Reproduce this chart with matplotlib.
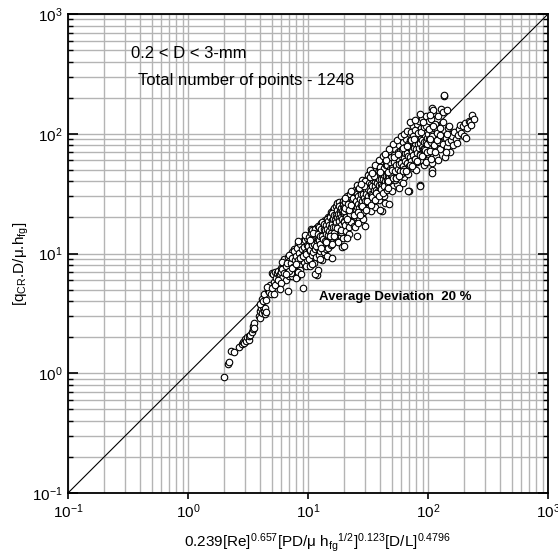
import numpy as np
import matplotlib
matplotlib.use("Agg")
import matplotlib.pyplot as plt
from matplotlib.ticker import LogLocator, NullFormatter

plt.rcParams['font.family'] = ['Liberation Sans', 'DejaVu Sans']
plt.rcParams['mathtext.fontset'] = 'custom'
plt.rcParams['mathtext.rm'] = 'Liberation Sans'
plt.rcParams['mathtext.it'] = 'Liberation Sans'
plt.rcParams['mathtext.bf'] = 'Liberation Sans:bold'

tail_pts = [(2.0,0.93),(2.14,1.19),(2.19,1.25),(2.27,1.54),(2.44,1.51),(2.66,1.66),(2.8,1.75),(2.89,1.83),
            (2.95,1.78),(3.0,1.95),(3.05,1.85),(3.1,2.0),(3.2,1.9),(3.25,2.05),(3.3,2.1),(3.4,2.2),(3.45,2.35),
            (3.5,2.5),(3.52,2.62),(3.55,2.4),(3.9,3.0),(3.95,3.3),(4.0,2.9),(4.05,3.5),(4.1,3.2),(4.2,3.6),
            (4.3,3.3),(4.35,3.1),(4.4,3.5),(4.45,3.25),(3.95,3.8),(4.1,4.2),(4.2,4.05),(4.3,4.6),(4.5,4.1),
            (4.6,5.0),(4.7,4.8),(4.8,5.5),(4.55,5.3),(4.9,4.6),(5.0,5.2)]
band_5_10 = [(5.0,6.9),(5.1,6.7),(5.2,5.8),(5.3,7.0),(5.4,6.2),(5.5,6.9),(5.6,7.2),(5.7,6.5),(5.8,6.8),(5.9,7.5),
             (6.0,7.0),(6.1,6.3),(6.2,7.8),(6.3,8.3),(6.4,7.1),(6.5,8.8),(6.6,6.0),(6.7,7.6),(6.8,4.9),(6.9,8.0),
             (5.3,5.5),(5.6,6.0),(6.0,5.7),(6.3,9.0),(6.8,9.4),(5.8,5.1),(6.1,8.5),(6.6,7.0),(6.95,6.5),(5.2,4.6),
             (7.0,8.6),(7.1,7.3),(7.2,9.5),(7.3,8.1),(7.4,6.5),(7.5,10.2),(7.6,8.8),(7.7,7.6),(7.8,9.9),(7.9,8.3),
             (8.0,10.8),(8.1,6.4),(8.2,9.2),(8.3,11.3),(8.4,8.0),(8.5,10.0),(8.6,7.3),(8.7,11.8),(8.8,9.0),(8.9,12.4),
             (9.0,10.5),(9.1,5.2),(9.2,8.5),(9.3,12.0),(9.4,9.6),(9.5,11.0),(9.6,7.9),(9.7,13.0),(9.8,10.2),(9.9,8.8),
             (7.2,6.9),(7.7,11.0),(8.3,7.0),(8.9,10.0),(9.4,13.5),(7.5,9.0),(8.0,8.5),(8.6,9.6),(9.1,11.4),(9.6,10.6),
             (7.9,6.3),(8.7,6.8),(9.8,12.6),(7.3,10.3),(8.2,12.0)]
band_10_20 = [(10.0,11.6),(10.1,9.0),(10.2,13.8),(10.3,10.7),(10.4,7.9),(10.5,12.4),(10.6,14.9),(10.7,9.7),(10.8,11.8),
              (10.9,15.6),(11.0,10.3),(11.1,13.0),(11.2,8.4),(11.3,12.1),(11.4,16.0),(11.5,10.9),(11.6,14.2),(11.7,9.3),
              (11.8,6.6),(11.9,12.8),(12.0,15.2),(12.1,11.2),(12.2,17.0),(12.3,9.8),(12.4,13.6),(12.5,11.9),(12.6,16.3),
              (12.7,10.4),(12.8,14.5),(12.9,18.0),(13.0,12.2),(13.1,8.9),(13.2,15.7),(13.3,11.4),(13.4,17.6),(13.5,13.5),
              (13.6,10.2),(13.7,16.4),(13.8,12.7),(13.9,19.2),(14.0,14.1),(14.1,11.0),(14.2,17.9),(14.3,13.2),(14.4,9.5),
              (14.5,15.8),(14.6,20.0),(14.7,12.3),(14.8,16.9),(14.9,14.6),(10.3,12.9),(11.0,14.8),(11.6,11.5),(12.2,13.3),
              (12.9,13.9),(13.5,15.0),(14.2,15.2),(10.8,8.2),(12.5,9.0),(14.8,11.2),(11.4,6.7),(12.0,7.3),
              (15.0,17.2),(15.1,13.5),(15.2,20.5),(15.3,15.0),(15.4,11.8),(15.5,18.6),(15.6,22.0),(15.7,9.2),(15.8,16.3),
              (15.9,19.7),(16.0,14.2),(16.1,23.0),(16.2,17.5),(16.3,12.9),(16.4,20.8),(16.5,15.9),(16.6,24.1),(16.7,18.2),
              (16.8,13.8),(16.9,21.7),(17.0,16.6),(17.1,25.0),(17.2,19.1),(17.3,14.6),(17.4,22.5),(17.5,17.3),(17.6,26.2),
              (17.7,20.0),(17.8,12.4),(17.9,23.4),(18.0,18.0),(18.1,15.5),(18.2,21.2),(18.3,27.0),(18.4,16.8),(18.5,24.0),
              (18.6,19.5),(18.7,14.0),(18.8,22.2),(18.9,25.5),(19.0,17.8),(19.1,20.6),(19.2,11.4),(19.3,23.8),(19.4,16.2),
              (19.5,27.5),(19.6,21.0),(19.7,13.6),(19.8,24.7),(19.9,18.8),(15.5,14.0),(16.3,18.8),(17.0,21.0),(17.8,19.0),
              (18.6,17.0),(19.4,22.6),(16.0,12.0),(17.5,15.0),(19.0,15.0),(20.0,11.5)]
band_20_45 = [(20.0,22.5),(20.2,17.3),(20.4,27.0),(20.6,20.1),(20.8,15.4),(21.0,24.6),(21.2,30.0),(21.4,18.7),(21.6,22.9),
              (21.8,28.1),(22.0,16.5),(22.2,25.7),(22.4,20.8),(22.6,31.2),(22.8,23.6),(23.0,18.3),(23.2,27.4),(23.4,21.9),
              (23.6,32.8),(23.8,25.1),(24.0,17.1),(24.2,29.3),(24.4,22.7),(24.6,34.0),(24.8,26.3),(25.0,20.0),(25.2,30.5),
              (25.4,24.3),(25.6,14.0),(25.8,28.2),(26.0,35.5),(26.2,21.5),(26.4,31.6),(26.6,25.8),(26.8,19.0),(27.0,33.2),
              (27.2,27.6),(27.4,37.0),(27.6,23.0),(27.8,30.1),(28.0,20.5),(28.2,34.6),(28.4,26.9),(28.6,38.5),(28.8,29.0),
              (29.0,22.4),(29.2,32.7),(29.4,24.8),(29.6,39.6),(29.8,28.4),(20.5,24.0),(21.5,26.0),(22.5,21.5),(23.5,29.0),
              (24.5,25.0),(25.5,27.0),(26.5,29.5),(27.5,25.0),(28.5,31.5),(29.5,27.0),(21.0,19.5),(22.0,23.0),(23.0,25.5),
              (24.0,20.8),(25.0,23.5),(26.0,26.8),(27.0,30.4),(28.0,28.0),(29.0,35.0),(30.0,31.0),(22.0,14.5),(24.5,16.5),
              (26.0,18.0),(28.5,19.5),(30.0,17.0),(21.0,13.5),(20.5,29.0),(23.0,33.5),(25.5,37.0),(28.0,41.0),
              (30.2,36.0),(30.5,26.5),(30.8,42.0),(31.1,33.0),(31.4,24.2),(31.7,38.8),(32.0,46.5),(32.3,29.6),(32.6,35.7),
              (32.9,43.4),(33.2,27.0),(33.5,40.0),(33.8,31.9),(34.1,48.0),(34.4,36.6),(34.7,25.4),(35.0,44.0),(35.3,33.8),
              (35.6,50.0),(35.9,39.5),(36.2,29.0),(36.5,45.8),(36.8,35.1),(37.1,52.0),(37.4,41.2),(37.7,30.6),(38.0,47.5),
              (38.3,37.0),(38.6,54.0),(38.9,42.6),(39.2,27.8),(39.5,49.0),(39.8,38.4),(40.1,56.5),(40.4,44.5),(40.7,33.0),
              (41.0,51.0),(41.3,40.0),(41.6,22.7),(41.9,46.2),(42.2,58.0),(42.5,35.5),(42.8,52.5),(43.1,42.0),(43.4,30.2),
              (43.7,48.8),(44.0,60.0),(44.3,37.8),(44.6,54.6),(44.9,44.0),(31.0,30.0),(32.5,39.0),(34.0,33.5),(35.5,42.0),
              (37.0,38.0),(38.5,45.0),(40.0,41.0),(41.5,48.0),(43.0,45.5),(44.5,50.5),(31.5,45.0),(33.0,50.0),(36.0,55.0),
              (39.0,60.0),(42.0,65.0),(33.5,22.5),(36.5,24.5),(40.0,23.0),(43.5,26.5),(30.0,40.0),(35.0,31.0),(38.0,33.5),
              (40.5,37.5),(42.5,40.5),(44.0,34.0)]
band_45_100 = [(45.5,55.0),(46.2,40.5),(47.0,63.0),(47.6,26.0),(48.3,50.5),(49.0,70.0),(49.7,44.0),(50.4,58.5),(51.1,36.5),
               (51.8,66.0),(52.5,52.0),(53.2,75.0),(53.9,45.5),(54.6,61.5),(55.3,38.0),(56.0,70.5),(56.7,55.5),(57.4,80.0),
               (58.1,48.0),(58.8,64.5),(59.5,41.0),(60.2,74.0),(60.9,58.0),(61.6,85.0),(62.3,51.0),(63.0,68.0),(63.7,43.5),
               (64.4,78.0),(65.1,61.0),(65.8,90.0),(66.5,54.0),(67.2,72.0),(67.9,46.0),(68.6,82.5),(69.3,64.0),(46.0,48.0),
               (48.0,58.0),(50.0,52.0),(52.0,60.0),(54.0,55.0),(56.0,63.0),(58.0,57.0),(60.0,66.0),(62.0,60.0),(64.0,70.0),
               (66.0,65.0),(68.0,74.0),(47.0,75.0),(51.0,82.0),(55.0,88.0),(59.0,95.0),(63.0,100.0),(67.0,105.0),(69.4,33.0),
               (50.0,33.5),(57.0,35.0),(62.0,39.0),(46.5,35.0),(53.0,41.0),(60.0,46.0),(65.0,50.0),(49.0,64.0),(55.5,49.0),
               (61.0,54.0),(45.0,60.0),(52.0,67.0),(58.0,72.0),(64.0,58.0),(69.0,56.0),(44.0,68.0),
               (70.5,88.0),(71.5,60.0),(72.5,104.0),(73.5,73.0),(74.5,115.0),(75.5,52.0),(76.5,94.0),(77.5,66.0),(78.5,108.0),
               (79.5,80.0),(80.5,121.0),(81.5,58.0),(82.5,98.0),(83.5,71.0),(84.5,128.0),(85.5,86.0),(86.5,37.0),(87.5,112.0),
               (88.5,64.0),(89.5,135.0),(90.5,92.0),(91.5,76.0),(92.5,118.0),(93.5,55.0),(94.5,102.0),(95.5,140.0),(96.5,83.0),
               (97.5,68.0),(98.5,124.0),(99.5,95.0),(72.0,80.0),(76.0,78.0),(80.0,90.0),(84.0,100.0),(88.0,85.0),(92.0,105.0),
               (96.0,112.0),(100.0,78.0),(74.0,62.0),(79.0,50.0),(85.0,60.0),(91.0,66.0),(97.0,58.0),(71.0,125.0),(78.0,130.0),
               (86.0,145.0),(75.0,96.0),(83.0,84.0),(89.0,74.0),(94.0,88.0)]
band_100_240 = [(102.0,110.0),(104.0,72.0),(106.0,132.0),(107.0,50.0),(107.5,57.0),(109.0,95.0),(111.0,150.0),(113.0,80.0),
                (115.0,120.0),(117.0,65.0),(119.0,102.0),(121.0,140.0),(123.0,86.0),(125.0,112.0),(127.0,75.0),(129.0,160.0),
                (131.0,96.0),(133.0,125.0),(135.0,205.0),(137.0,210.0),(138.0,64.0),(103.0,90.0),(110.0,115.0),(118.0,88.0),
                (126.0,98.0),(134.0,82.0),(105.0,62.0),(114.0,70.0),(122.0,60.0),(108.0,164.0),(110.0,158.0),(134.0,152.0),
                (145.0,158.0),(104.0,144.0),(91.0,126.0),(147.0,112.0),(150.0,115.0),(68.0,33.0),(85.0,36.5),(108.0,47.0),
                (142.0,92.0),(145.0,78.0),(148.0,85.0),(150.0,100.0),(153.0,71.0),(156.0,88.0),(160.0,95.0),(163.0,80.0),
                (166.0,104.0),(170.0,90.0),(174.0,84.0),(178.0,98.0),(182.0,110.0),(186.0,118.0),(190.0,102.0),(195.0,115.0),
                (200.0,95.0),(207.0,93.0),(205.0,122.0),(212.0,112.0),(220.0,128.0),(223.0,126.0),(228.0,118.0),(231.0,144.0),
                (240.0,132.0),(145.0,100.0),(140.0,70.0)]
core_6_12 = [(6.1,7.4),(6.3,6.9),(6.5,7.9),(6.7,8.4),(6.9,7.2),(7.0,9.8),(7.2,8.3),(7.4,9.1),(7.5,7.7),(7.7,10.4),
             (7.8,8.9),(8.0,9.6),(8.1,11.2),(8.3,8.8),(8.4,10.1),(8.6,11.9),(8.7,9.4),(8.9,10.9),(9.0,12.6),(9.2,9.9),
             (9.3,11.4),(9.5,12.9),(9.6,10.3),(9.8,11.8),(9.9,13.6),(10.1,10.8),(10.2,12.3),(10.4,14.1),(10.5,11.5),
             (10.7,13.0),(10.8,14.9),(11.0,12.1),(11.1,13.6),(11.3,15.3),(11.4,12.6),(11.6,14.4),(11.7,16.2),(11.9,13.1),
             (12.0,14.0),(6.6,6.8),(7.3,7.6),(7.9,8.2),(8.5,9.2),(9.1,9.6),(9.7,10.0),(10.3,10.5),(10.9,11.2),(11.5,11.6),
             (12.0,12.4),(8.2,12.6),(9.4,14.2),(10.6,16.0)]
core_12_25 = [(12.1,14.5),(12.3,12.9),(12.4,16.5),(12.6,14.1),(12.7,12.1),(12.9,16.1),(13.0,14.0),(13.2,18.2),(13.3,13.3),
              (13.5,15.9),(13.6,17.5),(13.8,12.7),(13.9,15.8),(14.1,17.2),(14.2,14.6),(14.4,19.4),(14.5,16.0),(14.7,14.3),
              (14.8,18.6),(15.0,17.4),(15.1,15.3),(15.3,20.0),(15.4,16.8),(15.6,14.7),(15.7,19.0),(15.9,17.8),(16.0,21.8),
              (16.2,16.8),(16.3,19.4),(16.5,14.9),(16.6,21.1),(16.8,19.0),(16.9,16.7),(17.1,21.0),(17.2,18.4),(17.4,23.0),
              (17.5,20.1),(17.7,17.0),(17.8,21.4),(18.0,19.8),(18.1,24.8),(18.3,18.7),(18.4,22.8),(18.6,21.2),(18.7,17.4),
              (18.9,24.2),(19.0,20.1),(19.2,22.7),(19.3,19.3),(19.5,25.4),(19.6,21.8),(19.8,18.8),(19.9,24.3),(20.1,21.7),
              (20.3,27.2),(20.4,23.1),(20.6,20.2),(20.8,24.8),(20.9,21.9),(21.1,26.8),(21.3,19.6),(21.4,24.8),(21.6,22.2),
              (21.8,28.6),(21.9,24.1),(22.1,21.2),(22.3,27.0),(22.5,24.1),(22.6,28.3),(22.8,22.6),(23.0,26.2),(23.2,23.7),
              (23.3,30.1),(23.5,25.6),(23.7,22.3),(23.9,28.2),(24.1,25.3),(24.3,32.3),(24.5,27.4),(24.7,24.0),(24.9,29.9),
              (12.8,11.1),(14.0,12.4),(15.2,14.1),(16.4,13.9),(17.6,16.3),(18.8,15.8),(20.0,18.3),(21.2,17.6),(22.4,20.4),
              (23.6,19.2),(24.8,22.3)]
core_25_50 = [(25.1,27.6),(25.4,24.4),(25.7,31.4),(26.0,26.0),(26.3,30.2),(26.6,23.9),(26.9,28.5),(27.2,34.0),(27.5,25.6),
              (27.8,31.1),(28.1,27.5),(28.4,33.8),(28.7,25.0),(29.0,31.3),(29.3,29.3),(29.6,35.8),(29.9,27.5),(30.2,34.1),
              (30.5,31.1),(30.8,27.4),(31.1,36.4),(31.4,30.5),(31.7,34.6),(32.0,27.5),(32.4,38.9),(32.8,33.1),(33.2,31.2),
              (33.6,38.3),(34.0,30.6),(34.4,36.5),(34.8,41.1),(35.2,33.8),(35.6,30.3),(36.0,39.6),(36.4,36.4),(36.8,42.7),
              (37.2,33.9),(37.6,39.1),(38.0,33.4),(38.4,43.0),(38.8,37.6),(39.2,41.9),(39.6,33.3),(40.0,46.0),(40.4,38.4),
              (40.8,42.0),(41.2,36.7),(41.6,45.8),(42.0,41.6),(42.4,49.6),(42.8,36.8),(43.2,45.4),(43.6,40.5),(44.0,49.3),
              (44.4,36.9),(44.8,44.8),(45.2,49.3),(45.6,41.0),(46.0,52.4),(46.4,44.5),(46.8,39.8),(47.2,50.0),(47.6,43.8),
              (48.0,53.3),(48.4,47.4),(48.8,40.0),(49.2,51.2),(49.6,45.1),(50.0,56.5),
              (25.9,22.4),(27.3,20.9),(28.1,24.7),(30.4,23.1),(31.2,27.2),(33.4,25.6),(34.1,29.8),(36.3,27.9),(37.2,32.1),
              (39.4,30.2),(40.2,34.6),(42.3,31.9),(43.1,36.8),(45.4,34.0),(46.2,39.1),(48.3,36.7),
              (26.5,35.1),(29.2,36.4),(32.9,43.8),(35.4,44.1),(39.8,52.3),(42.6,51.8),(47.1,61.0),(27.7,38.0),(34.3,46.9),
              (40.0,48.2),(44.9,55.3)]
core_50_120 = [(50.5,49.5),(51.3,43.1),(52.1,58.4),(52.9,49.2),(53.7,55.3),(54.5,43.1),(55.3,64.1),(56.1,50.5),(56.9,60.3),
               (57.7,55.4),(58.5,48.6),(59.3,65.2),(60.1,56.5),(60.9,73.1),(61.7,53.7),(62.5,62.5),(63.3,50.6),(64.1,69.2),
               (64.9,59.7),(65.7,74.9),(66.5,57.2),(67.3,68.6),(68.1,64.7),(68.9,53.7),(69.7,77.4),(70.5,63.4),(71.5,74.4),
               (72.5,59.5),(73.5,71.3),(74.5,85.7),(75.5,66.4),(76.5,76.5),(77.5,62.0),(78.5,84.0),(79.5,73.9),(80.5,91.0),
               (81.5,69.3),(82.5,81.7),(83.5,76.0),(84.5,92.1),(85.5,67.5),(86.5,83.0),(87.5,91.9),(88.5,77.0),(89.5,89.5),
               (90.5,75.1),(91.5,100.7),(92.5,85.1),(93.5,74.8),(94.5,97.3),(95.5,85.0),(96.5,108.1),(97.5,92.6),(98.5,82.7),
               (99.5,99.5),(101,90.9),(103,109.2),(105,86.1),(107,103.8),(109,117.7),(111,95.5),(113,111.9),(115,92.0),
               (117,119.3),(119,108.3),
               (54.3,43.1),(57.6,44.2),(62.4,49.0),(65.7,48.8),(70.3,55.2),(73.6,53.9),(78.4,61.3),(81.7,59.6),(86.3,66.4),
               (89.6,64.8),(94.4,72.6),(97.7,70.1),
               (52.4,64.0),(56.6,67.1),(62.3,76.5),(66.8,78.6),(72.4,89.4),(76.7,90.5),(82.3,102.0),(86.6,103.5),
               (92.4,114.6),(96.7,115.0),(102.4,127.0)]

groups = [tail_pts, band_5_10, core_6_12, band_10_20, core_12_25, band_20_45, core_25_50,
          band_45_100, core_50_120, band_100_240]
pts = np.array([p for g in groups for p in g])
pred = pts[:, 0]
meas = pts[:, 1]

line_x = [0.1, 1000]
line_y = [0.1, 1000]

fig = plt.figure(figsize=(5.58, 5.59), dpi=100)
ax = fig.add_axes([68/558, 1-493/559, 480/558, 479/559])
ax.set_xscale('log')
ax.set_yscale('log')
ax.set_xlim(0.1, 1000)
ax.set_ylim(0.1, 1000)

ax.grid(True, which='both', color='#b4b4b4', linewidth=1.0, zorder=0)
ax.set_axisbelow(True)

ax.plot(line_x, line_y, color='black', linewidth=0.8, zorder=2)
ax.scatter(pred, meas, s=22, facecolors='white', edgecolors='black', linewidths=0.8, zorder=3)

for sp in ax.spines.values():
    sp.set_linewidth(1.3)

ax.xaxis.set_major_locator(LogLocator(base=10, numticks=10))
ax.yaxis.set_major_locator(LogLocator(base=10, numticks=10))
ax.xaxis.set_minor_locator(LogLocator(base=10, subs=np.arange(2, 10), numticks=20))
ax.yaxis.set_minor_locator(LogLocator(base=10, subs=np.arange(2, 10), numticks=20))
ax.xaxis.set_minor_formatter(NullFormatter())
ax.yaxis.set_minor_formatter(NullFormatter())

ax.tick_params(axis='y', which='major', direction='in', length=7, width=1.2, left=True, right=True, labelsize=11, pad=4)
ax.tick_params(axis='y', which='minor', direction='in', length=3.5, width=1.0, left=True, right=True)
ax.tick_params(axis='x', which='major', direction='out', length=4, width=1.2, bottom=True, top=False, labelsize=11, pad=3)
ax.tick_params(axis='x', which='minor', bottom=False, top=False)

ax.set_xlabel(r'0.239[Re]$^{0.657}$[PD/μ h$_{\mathrm{fg}}{}^{1/2}$]$^{0.123}$[D/L]$^{0.4796}$', fontsize=11)
ax.xaxis.set_label_coords(0.52, -0.082)
ax.set_ylabel(r'[q$_{\mathrm{CR}}$.D/μ.h$_{\mathrm{fg}}$]', fontsize=11)
ax.yaxis.set_label_coords(-0.077, 0.478)

fig.text(131/558, 1-54/559, '0.2 < D < 3-mm', fontsize=12, va='center', ha='left')
fig.text(138/558, 1-81/559, 'Total number of points - 1248', fontsize=12, va='center', ha='left')
fig.text(319/558, 1-297/559, 'Average Deviation  20 %', fontsize=9.5, fontweight='bold', va='center', ha='left')

fig.savefig('out.png', dpi=100)
